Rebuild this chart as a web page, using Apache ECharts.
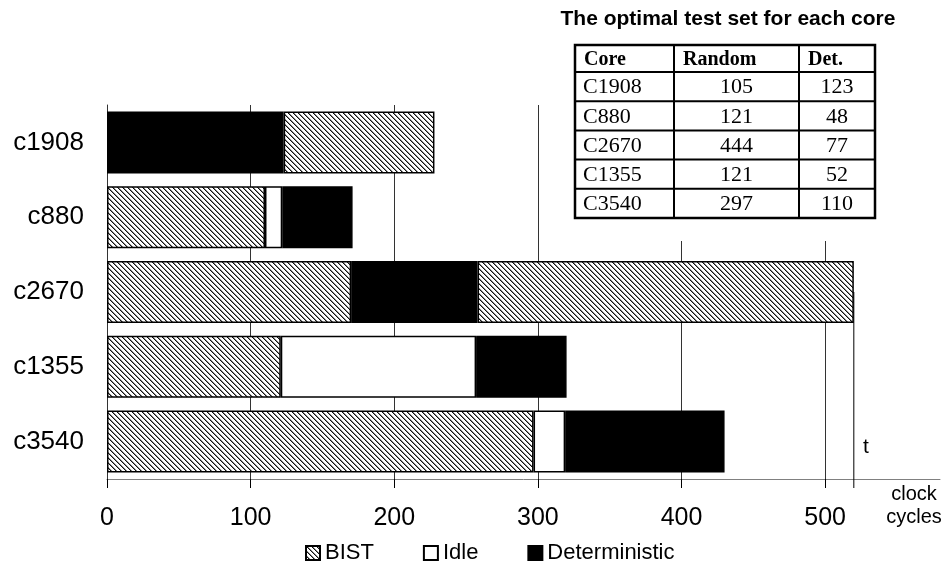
<!DOCTYPE html>
<html>
<head>
<meta charset="utf-8">
<script src="https://cdn.jsdelivr.net/npm/echarts@6/dist/echarts.min.js"></script>
<style>
  html, body { margin: 0; padding: 0; background: #fff; }
  #chart { width: 945px; height: 564px; }
</style>
</head>
<body>
<div id="chart"></div>
<script>
const cores = ['c1908', 'c880', 'c2670', 'c1355', 'c3540'];
// segments in stacking order, '-' where a core has no such segment
const detFirst = [123, '-', '-', '-', '-'];
const bist = [105, 110, 170, 121, 297];
const idle = ['-', 12, '-', 136, 22];
const det = ['-', 49, 88, 63, 111];
const bistTail = ['-', '-', 262, '-', '-'];
const xTicks = [0, 100, 200, 300, 400, 500];
const tLine = 520;

const tableHead = ['Core', 'Random', 'Det.'];
const tableCores = ['C1908', 'C880', 'C2670', 'C1355', 'C3540'];
const tableRandom = [105, 121, 444, 121, 297];
const tableDet = [123, 48, 77, 52, 110];

const sans = '"Liberation Sans", Arial, sans-serif';
const serif = '"Liberation Serif", "Times New Roman", serif';

function hatch() {
  const c = document.createElement('canvas');
  c.width = 5;
  c.height = 5;
  const ctx = c.getContext('2d');
  ctx.fillStyle = '#fff';
  ctx.fillRect(0, 0, 5, 5);
  for (let i = 0; i < 5; i++) {
    ctx.fillStyle = '#111';
    ctx.fillRect(i, i, 1, 1);
    ctx.fillStyle = '#888';
    ctx.fillRect((i + 1) % 5, i, 1, 1);
  }
  return c;
}
const bistFill = { image: hatch(), repeat: 'repeat' };

function bar(name, data, color) {
  return {
    name: name,
    type: 'bar',
    stack: 'core',
    barWidth: 62,
    z: 2,
    data: data,
    itemStyle: { color: color, borderColor: '#000', borderWidth: 1.5 },
    emphasis: { disabled: true },
  };
}

// table drawn as graphic elements
const tLeft = 575, tRight = 875, tTop = 45, headH = 27, rowH = 29.2;
const colX = [575, 674, 799, 875];
const table = [
  { type: 'rect', shape: { x: 556, y: 0, width: 344, height: 241 }, style: { fill: '#fff' } },
  {
    type: 'text', x: 728, y: 19,
    style: { text: 'The optimal test set for each core', font: 'bold 21px ' + sans, fill: '#000', align: 'center', verticalAlign: 'middle' },
  },
];
const rowEdges = [tTop, tTop + headH];
for (let i = 1; i <= tableCores.length; i++) rowEdges.push(tTop + headH + i * rowH);
const tBottom = rowEdges[rowEdges.length - 1];
rowEdges.slice(1, -1).forEach((y) => {
  table.push({ type: 'line', shape: { x1: tLeft, y1: y, x2: tRight, y2: y }, style: { stroke: '#000', lineWidth: 2 } });
});
colX.slice(1, -1).forEach((x) => {
  table.push({ type: 'line', shape: { x1: x, y1: tTop, x2: x, y2: tBottom }, style: { stroke: '#000', lineWidth: 2 } });
});
table.push({ type: 'rect', shape: { x: tLeft, y: tTop, width: tRight - tLeft, height: tBottom - tTop }, style: { fill: 'none', stroke: '#000', lineWidth: 2.5 } });
tableHead.forEach((h, j) => {
  table.push({
    type: 'text', x: colX[j] + 9, y: tTop + headH / 2 + 1,
    style: { text: h, font: 'bold 20px ' + serif, fill: '#000', align: 'left', verticalAlign: 'middle' },
  });
});
tableCores.forEach((c, i) => {
  const cy = rowEdges[i + 1] + rowH / 2 + 1;
  const cells = [c, String(tableRandom[i]), String(tableDet[i])];
  cells.forEach((t, j) => {
    table.push({
      type: 'text',
      x: j === 0 ? colX[0] + 8 : (colX[j] + colX[j + 1]) / 2,
      y: cy,
      style: { text: t, font: '22px ' + serif, fill: '#000', align: j === 0 ? 'left' : 'center', verticalAlign: 'middle' },
    });
  });
});
table.push({
  type: 'text', x: 914, y: 483,
  style: { text: 'clock\ncycles', font: '20px ' + sans, lineHeight: 23, fill: '#000', align: 'center', verticalAlign: 'top' },
});
table.push({
  type: 'text', x: 863, y: 437,
  style: { text: 't', font: '21px ' + sans, fill: '#000', align: 'left', verticalAlign: 'top' },
});
table.forEach((g) => { g.z = 100; g.silent = true; });

const chart = echarts.init(document.getElementById('chart'));
chart.setOption({
  animation: false,
  backgroundColor: '#fff',
  textStyle: { fontFamily: sans },
  grid: { left: 107, right: 5, top: 105, bottom: 85 },
  legend: {
    data: ['BIST', 'Idle', 'Deterministic'],
    left: 300,
    top: 537,
    icon: 'rect',
    itemWidth: 14,
    itemHeight: 14,
    itemGap: 49,
    selectedMode: false,
    textStyle: { fontSize: 22, color: '#000', fontFamily: sans },
  },
  xAxis: {
    type: 'value',
    min: 0,
    max: 580,
    interval: 100,
    axisLine: { show: true, lineStyle: { color: '#808080', width: 1 } },
    axisTick: { show: true, length: 9, customValues: xTicks, lineStyle: { color: '#000' } },
    axisLabel: { customValues: xTicks, fontSize: 25, margin: 27, color: '#000', fontFamily: sans },
    splitLine: { show: true, customValues: xTicks, lineStyle: { color: '#333', width: 1 } },
  },
  yAxis: {
    type: 'category',
    inverse: true,
    data: cores,
    axisLine: { show: true, lineStyle: { color: '#333', width: 1 } },
    axisTick: { show: false },
    axisLabel: { fontSize: 26, color: '#000', margin: 23, fontFamily: sans },
    splitLine: { show: false },
  },
  graphic: table,
  series: [
    bar('Deterministic', detFirst, '#000'),
    bar('BIST', bist, bistFill),
    bar('Idle', idle, '#fff'),
    bar('Deterministic', det, '#000'),
    bar('BIST', bistTail, bistFill),
    {
      type: 'custom',
      z: 1,
      silent: true,
      data: [[tLine, 'c2670']],
      renderItem: (params, api) => {
        const p = api.coord([api.value(0), api.value(1)]);
        const cs = params.coordSys;
        return {
          type: 'line',
          shape: { x1: p[0], y1: p[1], x2: p[0], y2: cs.y + cs.height + 9 },
          style: { stroke: '#000', lineWidth: 1 },
        };
      },
    },
  ],
});
</script>
</body>
</html>
